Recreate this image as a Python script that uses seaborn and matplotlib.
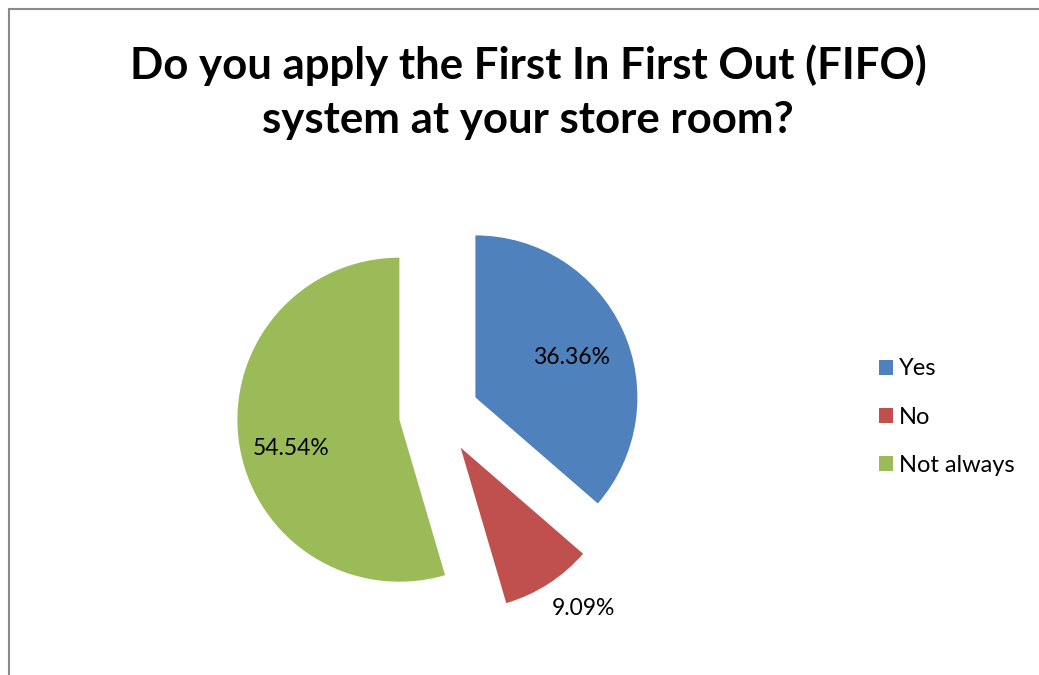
import matplotlib
matplotlib.use("Agg")
import matplotlib.pyplot as plt
from matplotlib.patches import Rectangle
import numpy as np
import seaborn as sns

# Data
categories = ["Yes", "No", "Not always"]
values = [36.36, 9.09, 54.54]
pct_labels = ["36.36%", "9.09%", "54.54%"]
title_text = "Do you apply the First In First Out (FIFO)\nsystem at your store room?"

sns.set_theme(style="white")
plt.rcParams['font.family'] = ['Lato', 'DejaVu Sans']
plt.rcParams['text.color'] = 'black'
colors = sns.color_palette(["#4F81BD", "#C0504D", "#9BBB59"])

W, H = 1039, 675
fig = plt.figure(figsize=(W / 100, H / 100), dpi=100)
fig.patch.set_facecolor("white")

ax = fig.add_axes([0, 0, 1, 1])

R = 162
center = (439, H - 414)
wedges, texts = ax.pie(values, colors=colors, startangle=90, counterclock=False,
                       explode=[40] * 3, radius=R, center=center,
                       wedgeprops=dict(linewidth=0), frame=True)
ax.set_xlim(0, W)
ax.set_ylim(0, H)
ax.set_aspect("equal")
ax.axis("off")

# label placement: distance (in radii) and angular tweak (deg) from slice middle
dists = [0.64, 1.25, 0.69]
tweaks = [-2, 4.7, 7]
for w, lab, d, tw in zip(wedges, pct_labels, dists, tweaks):
    ang = np.deg2rad((w.theta1 + w.theta2) / 2 + tw)
    cx, cy = w.center
    ax.text(cx + d * R * np.cos(ang), cy + d * R * np.sin(ang), lab,
            ha="center", va="center", fontsize=16.5, color="black")

leg = ax.legend(wedges, categories, loc="center left",
                bbox_to_anchor=(858 / W, 1 - 417 / H), frameon=False,
                fontsize=17, handlelength=0.6, handleheight=0.6,
                handletextpad=0.25, labelspacing=1.15)
for t in leg.get_texts():
    t.set_color("black")

fig.text(528 / W, 1 - 92 / H, title_text, ha="center", va="center",
         fontsize=31.5, fontweight="bold", linespacing=1.42, color="black")

fig.patches.append(Rectangle((9 / W, -0.01), 1.0, 1 - 9 / H + 0.01,
                             transform=fig.transFigure, fill=False,
                             edgecolor="#898989", linewidth=1.5))

fig.savefig("out.png", dpi=100)
